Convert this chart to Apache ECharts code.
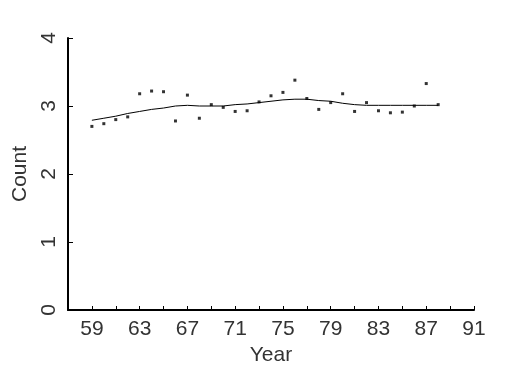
<!DOCTYPE html>
<html><head><meta charset="utf-8">
<script src="https://cdn.jsdelivr.net/npm/echarts@6/dist/echarts.min.js"></script>
<style>html,body{margin:0;padding:0;background:#fff}#c{width:525px;height:375px}</style>
</head><body><div id="c"></div>
<script>
var years = [59,60,61,62,63,64,65,66,67,68,69,70,71,72,73,74,75,76,77,78,79,80,81,82,83,84,85,86,87,88];
var counts = [2.70,2.74,2.80,2.84,3.18,3.22,3.21,2.78,3.16,2.82,3.02,2.98,2.92,2.93,3.06,3.15,3.20,3.38,3.11,2.95,3.05,3.18,2.92,3.05,2.93,2.90,2.91,3.00,3.33,3.02];
var smooth = [2.79,2.82,2.85,2.89,2.92,2.95,2.97,3.00,3.01,3.00,3.00,3.00,3.02,3.03,3.05,3.07,3.09,3.10,3.10,3.08,3.07,3.04,3.02,3.01,3.01,3.01,3.01,3.01,3.01,3.01];
var xLabels = [59,63,67,71,75,79,83,87,91];

var font = 'Liberation Sans';
var chart = echarts.init(document.getElementById('c'), null, {renderer:'canvas'});
chart.setOption({
  animation:false,
  backgroundColor:'#fff',
  grid:{left:68,top:38,right:51,bottom:65,containLabel:false},
  xAxis:{
    type:'value', min:57, max:91, interval:2,
    name:'Year', nameLocation:'middle', nameGap:35,
    nameTextStyle:{fontFamily:font,fontSize:21,color:'#333'},
    axisLine:{show:true,onZero:false,lineStyle:{color:'#000',width:2}},
    axisTick:{show:true,inside:true,length:4,lineStyle:{color:'#000',width:1}},
    axisLabel:{show:true,margin:9,fontFamily:font,fontSize:21,color:'#333',
      formatter:function(v){return xLabels.indexOf(v)>=0?String(v):'';}},
    splitLine:{show:false}
  },
  yAxis:{
    type:'value', min:0, max:4, interval:1,
    name:'Count', nameLocation:'middle', nameGap:36, nameRotate:90,
    nameTextStyle:{fontFamily:font,fontSize:21,color:'#333'},
    axisLine:{show:true,lineStyle:{color:'#000',width:2}},
    axisTick:{show:true,inside:true,length:5,lineStyle:{color:'#000',width:1}},
    axisLabel:{show:true,rotate:90,margin:8,fontFamily:font,fontSize:21,color:'#333'},
    splitLine:{show:false}
  },
  series:[
    {type:'line', data:years.map(function(y,i){return [y,smooth[i]];}), showSymbol:false, symbol:'none',
     lineStyle:{color:'#000',width:1}, z:2},
    {type:'scatter', data:years.map(function(y,i){return [y,counts[i]];}), symbol:'rect', symbolSize:3,
     itemStyle:{color:'#000'}, z:3}
  ]
});
</script></body></html>
